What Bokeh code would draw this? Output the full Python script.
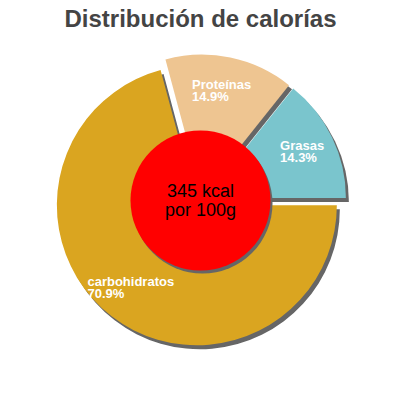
import numpy as np
from bokeh.plotting import figure
from bokeh.models import ColumnDataSource
from bokeh.embed import file_html
from bokeh.resources import INLINE
from bokeh.core.properties import value

title = "Distribución de calorías"
labels = ["Grasas", "Proteínas", "carbohidratos"]
percents = [14.3, 14.9, 70.9]
colors = ["#7AC5CD", "#EEC591", "#DAA520"]
center_lines = ["345 kcal", "por 100g"]

FONT = "Liberation Sans"
CX, CY = 200.0, 200.0
R = 140.0
EXPLODE = 6.0
SH_DX, SH_DY = 3.0, -4.0
LABEL_R = 105.0
LABEL_FS = 13
TXT_DY = 6.0

p = figure(width=400, height=400, x_range=(0, 400), y_range=(0, 400),
           output_backend="svg", toolbar_location=None, min_border=0,
           x_axis_location=None, y_axis_location=None)
p.grid.visible = False
p.outline_line_color = None
p.background_fill_color = "white"
p.border_fill_color = "white"

pct = np.array(percents, dtype=float)
frac = pct / pct.sum()
ends = np.cumsum(frac) * 2 * np.pi
starts = ends - frac * 2 * np.pi
mids = (starts + ends) / 2
cxs = CX + EXPLODE * np.cos(mids)
cys = CY + EXPLODE * np.sin(mids)

src = ColumnDataSource(dict(x=cxs, y=cys, sx=cxs + SH_DX, sy=cys + SH_DY,
                            start=starts, end=ends, color=colors))

p.wedge(x="sx", y="sy", radius=R, start_angle="start", end_angle="end",
        source=src, fill_color="#666666", line_color=None)
p.wedge(x="x", y="y", radius=R, start_angle="start", end_angle="end",
        source=src, fill_color="color", line_color=None)

# center circle
p.circle(x=[CX + 2], y=[CY - 3], radius=70, fill_color="#666666", line_color=None)
p.circle(x=[CX], y=[CY], radius=70, fill_color="#FF0000", line_color=None)

# labels
lx = cxs + LABEL_R * np.cos(mids)
ly = cys + LABEL_R * np.sin(mids) + TXT_DY
widths = np.array([len(l) for l in labels]) * LABEL_FS * 0.55
left = lx - widths / 2 + 1
pct_txt = [f"{v:.1f}%" for v in percents]
p.text(x=left, y=ly + 1, text=labels, text_color="white", text_font=value(FONT),
       text_font_size=f"{LABEL_FS}px", text_font_style="bold",
       text_align="left", text_baseline="alphabetic")
p.text(x=left, y=ly - 11, text=pct_txt, text_color="white", text_font=value(FONT),
       text_font_size=f"{LABEL_FS}px", text_font_style="bold",
       text_align="left", text_baseline="alphabetic")

# center text
p.text(x=[CX, CX], y=[400 - 196 + TXT_DY, 400 - 215 + TXT_DY], text=center_lines,
       text_color="black", text_font=value(FONT), text_font_size="18px",
       text_align="center", text_baseline="alphabetic")

# title
p.text(x=[200], y=[400 - 24 + TXT_DY], text=[title], text_color="#444444",
       text_font=value(FONT), text_font_size="24px", text_font_style="bold",
       text_align="center", text_baseline="alphabetic")

open("out.html", "w").write(file_html(p, INLINE))
